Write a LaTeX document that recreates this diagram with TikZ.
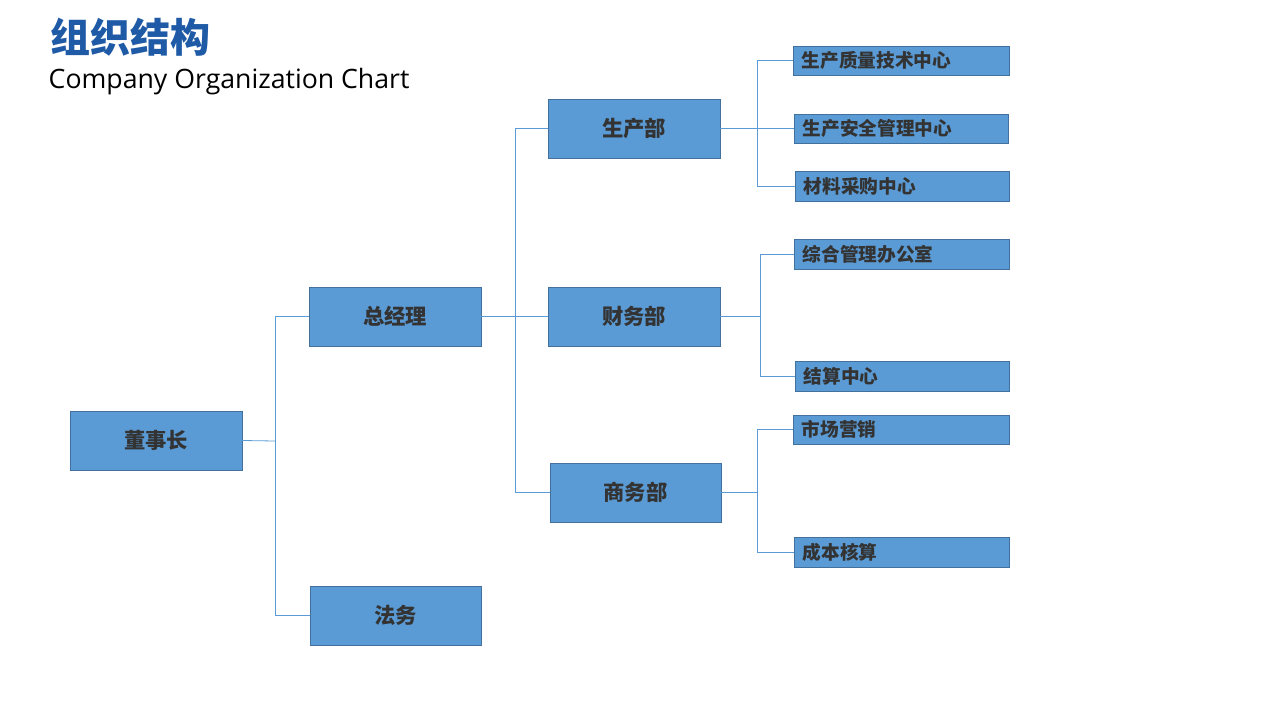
\documentclass[tikz,border=0pt]{standalone}
\usepackage{fontspec}
\setmainfont{Open Sans}
\newfontfamily\cjk{Noto Sans CJK SC}
\definecolor{boxfill}{HTML}{5B9BD5}
\definecolor{boxline}{HTML}{41719C}
\definecolor{titleblue}{HTML}{1F5AA6}
\definecolor{txt}{HTML}{333333}
\begin{document}
\begin{tikzpicture}[x=0.75pt,y=-0.75pt,
  bx/.style={draw=boxline,fill=boxfill,line width=0.6pt,inner sep=0pt},
  lab/.style={text=txt,font=\cjk\bfseries\fontsize{16}{18}\selectfont},
  slab/.style={text=txt,font=\cjk\bfseries\fontsize{14}{16}\selectfont,anchor=west},
  ln/.style={draw=boxfill,line width=0.6pt}]
\useasboundingbox (0,0) rectangle (1280,720);
\node[anchor=west,text=titleblue,font=\cjk\bfseries\fontsize{30}{34}\selectfont] (t1) at (46,37) {组织结构};
\node[anchor=west,text=black,font=\fontsize{20}{24}\selectfont] (t2) at (44,82) {Company Organization Chart};
\newcommand{\bigbox}[6]{\path[bx] (#2,#3) rectangle (#4,#5); \node[lab] (#1) at ({(#2+#4)/2},{(#3+#5)/2}) {#6};
  \coordinate (#1w) at (#2,{(#3+#5)/2}); \coordinate (#1e) at (#4,{(#3+#5)/2});}
\newcommand{\smbox}[6]{\path[bx] (#2,#3) rectangle (#4,#5); \node[slab] (#1) at (#2+4,{(#3+#5)/2}) {#6};
  \coordinate (#1w) at (#2,{(#3+#5)/2});}
\bigbox{dsz}{70}{411}{242}{470}{董事长}
\bigbox{zjl}{309}{287}{481}{346}{总经理}
\bigbox{fw}{310}{586}{481}{645}{法务}
\bigbox{scb}{548}{99}{720}{158}{生产部}
\bigbox{cwb}{548}{287}{720}{346}{财务部}
\bigbox{swb}{550}{463}{721}{522}{商务部}
\smbox{a1}{793}{46}{1009}{75}{生产质量技术中心}
\smbox{a2}{794}{114}{1008}{143}{生产安全管理中心}
\smbox{a3}{795}{171}{1009}{201}{材料采购中心}
\smbox{b1}{794}{239}{1009}{269}{综合管理办公室}
\smbox{b2}{795}{361}{1009}{391}{结算中心}
\smbox{c1}{793}{415}{1009}{444}{市场营销}
\smbox{c2}{794}{537}{1009}{567}{成本核算}
\draw[ln] (dsze) -- (275,441);
\draw[ln] (zjlw) -- (275,316.5) -- (275,615.5) -- (fww);
\draw[ln] (zjle) -- (cwbw);
\draw[ln] (scbw) -- (515,128.5) -- (515,492.5) -- (swbw);
\draw[ln] (scbe) -- (a2w);
\draw[ln] (a1w) -- (757,60.5) -- (757,186) -- (a3w);
\draw[ln] (cwbe) -- (760,316.5);
\draw[ln] (b1w) -- (760,254) -- (760,376) -- (b2w);
\draw[ln] (swbe) -- (757,492.5);
\draw[ln] (c1w) -- (757,429.5) -- (757,552) -- (c2w);
\end{tikzpicture}
\end{document}
